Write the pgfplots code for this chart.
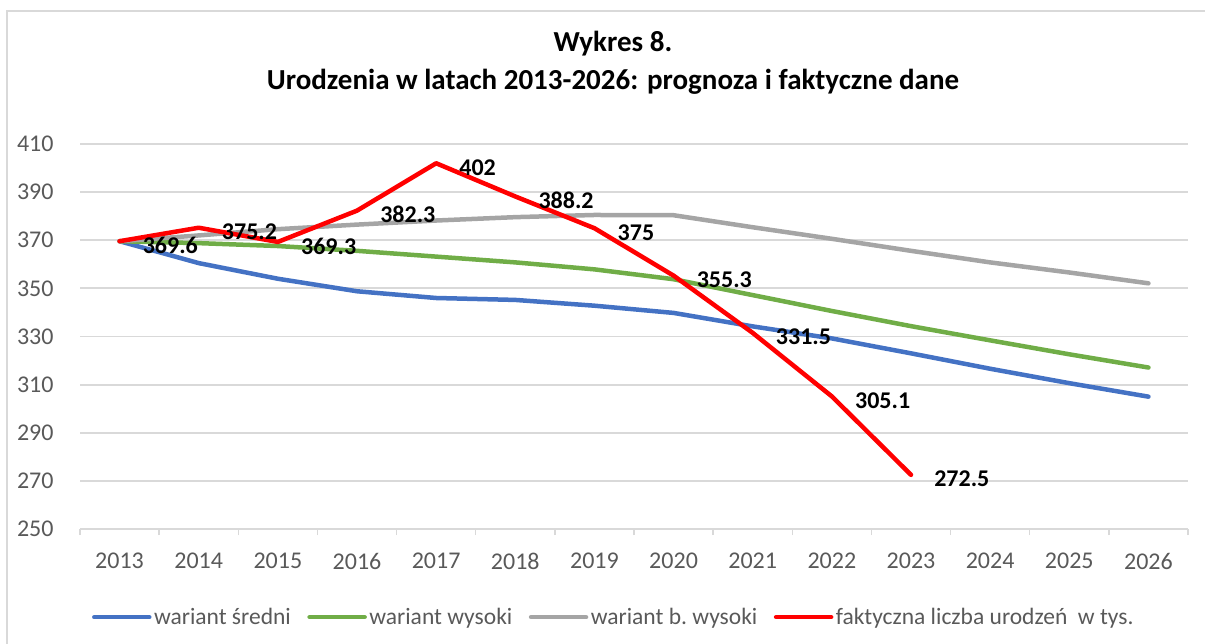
\documentclass[border=0pt]{standalone}
\usepackage{fontspec}
\setmainfont{Carlito}
\usepackage{pgfplots}
\pgfplotsset{compat=1.18}
\definecolor{gridgray}{HTML}{D9D9D9}
\definecolor{labelgray}{HTML}{595959}
\definecolor{cblue}{HTML}{4472C4}
\definecolor{cgreen}{HTML}{70AD47}
\definecolor{cgray}{HTML}{A5A5A5}
\definecolor{cred}{HTML}{FF0000}
\pgfplotstableread{
x y
0 369.6
1 360.5
2 354.0
3 348.8
4 346.0
5 345.2
6 342.8
7 339.8
8 334.2
9 329.2
10 323.0
11 316.6
12 310.6
13 305.0
}\sredni
\pgfplotstableread{
x y
0 369.6
1 368.8
2 367.6
3 365.6
4 363.2
5 360.8
6 357.9
7 353.8
8 347.2
9 340.6
10 334.3
11 328.4
12 322.6
13 317.1
}\wysoki
\pgfplotstableread{
x y
0 369.6
1 372.0
2 374.6
3 376.5
4 378.2
5 379.6
6 380.5
7 380.4
8 375.4
9 370.6
10 365.6
11 360.8
12 356.6
13 352.1
}\bwysoki
\pgfplotstableread{
x y label
0 369.6 369.6
1 375.2 375.2
2 369.3 369.3
3 382.3 382.3
4 402 402
5 388.2 388.2
6 375 375
7 355.3 355.3
8 331.5 331.5
9 305.1 305.1
10 272.5 272.5
}\faktyczna
\begin{document}
\begin{tikzpicture}[x=1pt,y=1pt]
\path[use as bounding box] (0,0) rectangle (1205,643);
\draw[gridgray, line width=2pt] (7,-5) -- (7,632) -- (1210,632);
\node[font=\fontsize{29}{34}\selectfont\bfseries, anchor=base] at (613,643-52) {Wykres 8.};
\node[font=\fontsize{29}{34}\selectfont\bfseries, anchor=base] at (613,643-90) {Urodzenia w latach 2013-2026: prognoza i faktyczne dane};
\begin{axis}[
  at={(80pt,114pt)}, anchor=south west,
  width=1108pt, height=385pt, scale only axis,
  xmin=-0.5, xmax=13.5, ymin=250, ymax=410,
  ytick={250,270,...,410},
  xtick={0,...,13},
  xticklabels={2013,2014,2015,2016,2017,2018,2019,2020,2021,2022,2023,2024,2025,2026},
  minor xtick={-0.5,0.5,...,13.5},
  xtick pos=bottom, ytick pos=left,
  tick align=outside,
  major x tick style={draw=none},
  ytick style={draw=none},
  minor x tick style={draw=gridgray, line width=1.5pt},
  minor tick length=6pt,
  axis line style={draw=none},
  ymajorgrids,
  major grid style={draw=gridgray, line width=1.8pt},
  ticklabel style={font=\fontsize{24}{28}\selectfont, text=labelgray},
  xticklabel style={anchor=center, inner sep=0pt, yshift=-28pt},
  yticklabel style={anchor=east, inner sep=0pt, xshift=-22pt},
  /pgf/number format/assume math mode=true,
  clip=false,
  legend columns=4,
  legend style={at={(0.482,-0.229)}, anchor=center, draw=none, fill=none,
    font=\fontsize{23.5}{28}\selectfont, text=labelgray,
    nodes={inner xsep=2.5pt, inner ysep=2pt},
    /tikz/every even column/.append style={column sep=14pt}},
  legend image code/.code={\draw[#1, line cap=round] (0pt,0pt) -- (55pt,0pt);},
  every axis plot/.append style={line width=4.5pt, line join=round, line cap=round},
]
\addplot[cblue, no markers] table[x=x,y=y] {\sredni};
\addlegendentry{wariant średni}
\addplot[cgreen, no markers] table[x=x,y=y] {\wysoki};
\addlegendentry{wariant wysoki}
\addplot[cgray, no markers] table[x=x,y=y] {\bwysoki};
\addlegendentry{wariant b.\ wysoki}
\addplot[cred, no markers, point meta=explicit symbolic,
  nodes near coords,
  nodes near coords style={anchor=west, inner sep=0pt, xshift=21pt, yshift=-4pt,
    font=\fontsize{24}{28}\selectfont\bfseries, text=black}]
  table[x=x,y=y,meta=label] {\faktyczna};
\addlegendentry{faktyczna liczba urodzeń\ \ w tys.}
\end{axis}
\end{tikzpicture}
\end{document}
